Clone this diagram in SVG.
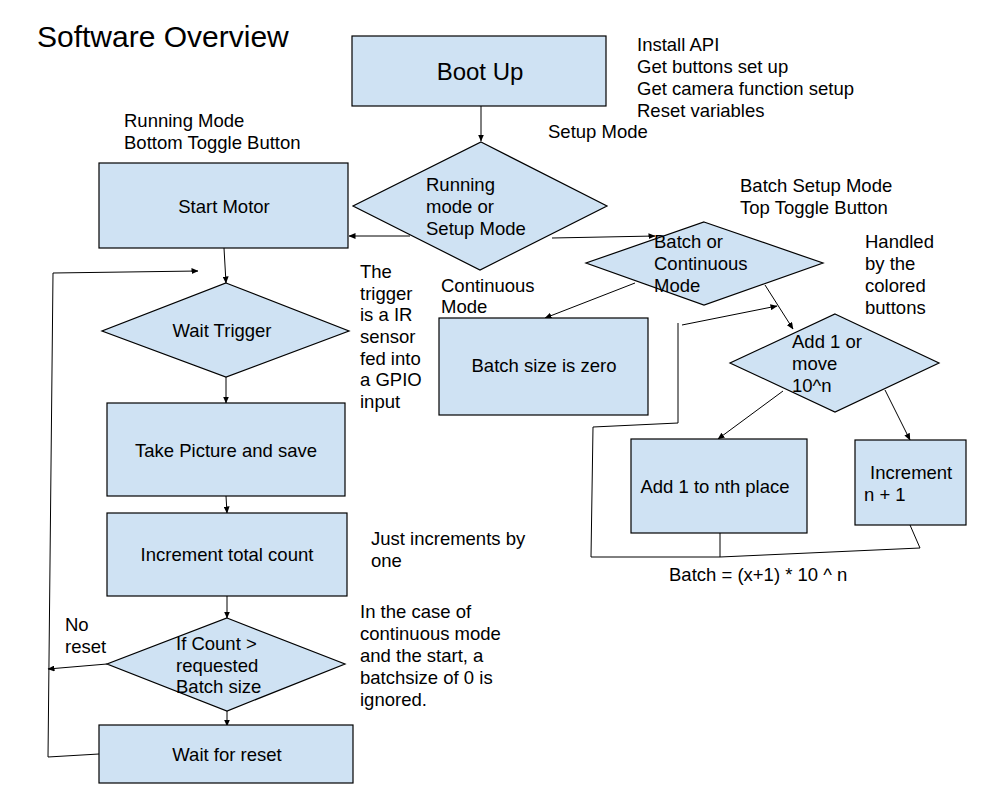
<svg xmlns="http://www.w3.org/2000/svg" width="985" height="801" viewBox="0 0 985 801">
<defs>
<style>
text{font-family:"Liberation Sans",Arial,sans-serif;font-size:18.5px;fill:#000}
.n{fill:#cfe2f3;stroke:#000;stroke-width:1.2}
.c{fill:none;stroke:#000;stroke-width:1}
.m{text-anchor:middle}
</style>
<marker id="a" markerUnits="userSpaceOnUse" markerWidth="7" markerHeight="6" refX="6.5" refY="3" orient="auto">
<path d="M0,0 L7,3 L0,6 z" fill="#000"/>
</marker>
</defs>
<rect width="985" height="801" fill="#fff"/>

<text x="37" y="47" style="font-size:30px">Software Overview</text>

<g id="connectors">
<line class="c" x1="481" y1="106" x2="481" y2="141" marker-end="url(#a)"/>
<line class="c" x1="410" y1="236" x2="349" y2="236" marker-end="url(#a)"/>
<line class="c" x1="552" y1="238" x2="655" y2="236" marker-end="url(#a)"/>
<line class="c" x1="635" y1="283" x2="545" y2="318" marker-end="url(#a)"/>
<line class="c" x1="765" y1="285" x2="793" y2="329" marker-end="url(#a)"/>
<line class="c" x1="783" y1="391" x2="718" y2="439" marker-end="url(#a)"/>
<line class="c" x1="885" y1="390" x2="910" y2="440" marker-end="url(#a)"/>
<polyline class="c" points="720,533 720,557"/>
<polyline class="c" points="910,525 920,548 720,557 591,557 593,427 678,423 678,323"/>
<line class="c" x1="682" y1="325" x2="777" y2="306" marker-end="url(#a)"/>
<line class="c" x1="224" y1="248" x2="226" y2="283" marker-end="url(#a)"/>
<line class="c" x1="226" y1="377" x2="226" y2="403" marker-end="url(#a)"/>
<line class="c" x1="226" y1="496" x2="227" y2="513" marker-end="url(#a)"/>
<line class="c" x1="227" y1="596" x2="227" y2="618" marker-end="url(#a)"/>
<line class="c" x1="107" y1="664" x2="48" y2="669" marker-end="url(#a)"/>
<line class="c" x1="227" y1="711" x2="227" y2="726" marker-end="url(#a)"/>
<polyline class="c" points="99,754 48,757 53,273"/>
<line class="c" x1="53" y1="273" x2="198" y2="271" marker-end="url(#a)"/>
</g>

<g id="boot">
<rect class="n" x="352" y="36" width="254" height="70"/>
<text x="480" y="80" class="m" style="font-size:24px">Boot Up</text>
</g>
<g id="boot-notes">
<text x="637" y="51">Install API</text>
<text x="637" y="73">Get buttons set up</text>
<text x="637" y="95">Get camera function setup</text>
<text x="637" y="117">Reset variables</text>
</g>
<text x="548" y="138">Setup Mode</text>

<g id="mode">
<polygon class="n" points="481,142 607,206 480,270 353,206"/>
<text x="426" y="191">Running</text>
<text x="426" y="213">mode or</text>
<text x="426" y="235">Setup Mode</text>
</g>

<g id="running-label">
<text x="124" y="127">Running Mode</text>
<text x="124" y="149">Bottom Toggle Button</text>
</g>

<g id="start-motor">
<rect class="n" x="99" y="163" width="249" height="85"/>
<text x="224" y="213" class="m">Start Motor</text>
</g>

<g id="wait-trigger">
<polygon class="n" points="226,283 349,331 226,377 102,331"/>
<text x="222" y="337" class="m">Wait Trigger</text>
</g>
<g id="trigger-note">
<text x="360" y="278">The</text>
<text x="360" y="300">trigger</text>
<text x="360" y="321">is a IR</text>
<text x="360" y="343">sensor</text>
<text x="360" y="365">fed into</text>
<text x="360" y="386">a GPIO</text>
<text x="360" y="408">input</text>
</g>

<g id="take-picture">
<rect class="n" x="107" y="403" width="238" height="93"/>
<text x="226" y="457" class="m">Take Picture and save</text>
</g>

<g id="increment-count">
<rect class="n" x="107" y="513" width="240" height="83"/>
<text x="227" y="561" class="m">Increment total count</text>
</g>
<g id="increment-note">
<text x="371" y="545">Just increments by</text>
<text x="371" y="567">one</text>
</g>

<g id="if-count">
<polygon class="n" points="227,618 345,664 227,711 107,664"/>
<text x="176" y="650">If Count &gt;</text>
<text x="176" y="672">requested</text>
<text x="176" y="693">Batch size</text>
</g>
<g id="no-reset">
<text x="65" y="631">No</text>
<text x="65" y="653">reset</text>
</g>
<g id="continuous-note">
<text x="360" y="618">In the case of</text>
<text x="360" y="640">continuous mode</text>
<text x="360" y="662">and the start, a</text>
<text x="360" y="684">batchsize of 0 is</text>
<text x="360" y="706">ignored.</text>
</g>

<g id="wait-reset">
<rect class="n" x="99" y="725" width="254" height="58"/>
<text x="227" y="761" class="m">Wait for reset</text>
</g>

<g id="batch-setup-label">
<text x="740" y="192">Batch Setup Mode</text>
<text x="740" y="214">Top Toggle Button</text>
</g>

<g id="batch-or-continuous">
<polygon class="n" points="704,222 823,263 704,305 586,263"/>
<text x="654" y="248">Batch or</text>
<text x="654" y="270">Continuous</text>
<text x="654" y="292">Mode</text>
</g>

<g id="handled-note">
<text x="865" y="248">Handled</text>
<text x="865" y="270">by the</text>
<text x="865" y="292">colored</text>
<text x="865" y="314">buttons</text>
</g>

<g id="continuous-label">
<text x="441" y="292">Continuous</text>
<text x="441" y="313">Mode</text>
</g>

<g id="batch-zero">
<rect class="n" x="439" y="318" width="209" height="97"/>
<text x="544" y="372" class="m">Batch size is zero</text>
</g>

<g id="add-or-move">
<polygon class="n" points="835,314 939,363 835,412 730,363"/>
<text x="792" y="348">Add 1 or</text>
<text x="792" y="370">move</text>
<text x="792" y="392">10^n</text>
</g>

<g id="add-nth">
<rect class="n" x="631" y="439" width="176" height="94"/>
<text x="715" y="493" class="m">Add 1 to nth place</text>
</g>

<g id="increment-n">
<rect class="n" x="855" y="440" width="111" height="85"/>
<text x="870" y="479">Increment</text>
<text x="864" y="501">n + 1</text>
</g>

<text x="669" y="581">Batch = (x+1) * 10 ^ n</text>
</svg>
